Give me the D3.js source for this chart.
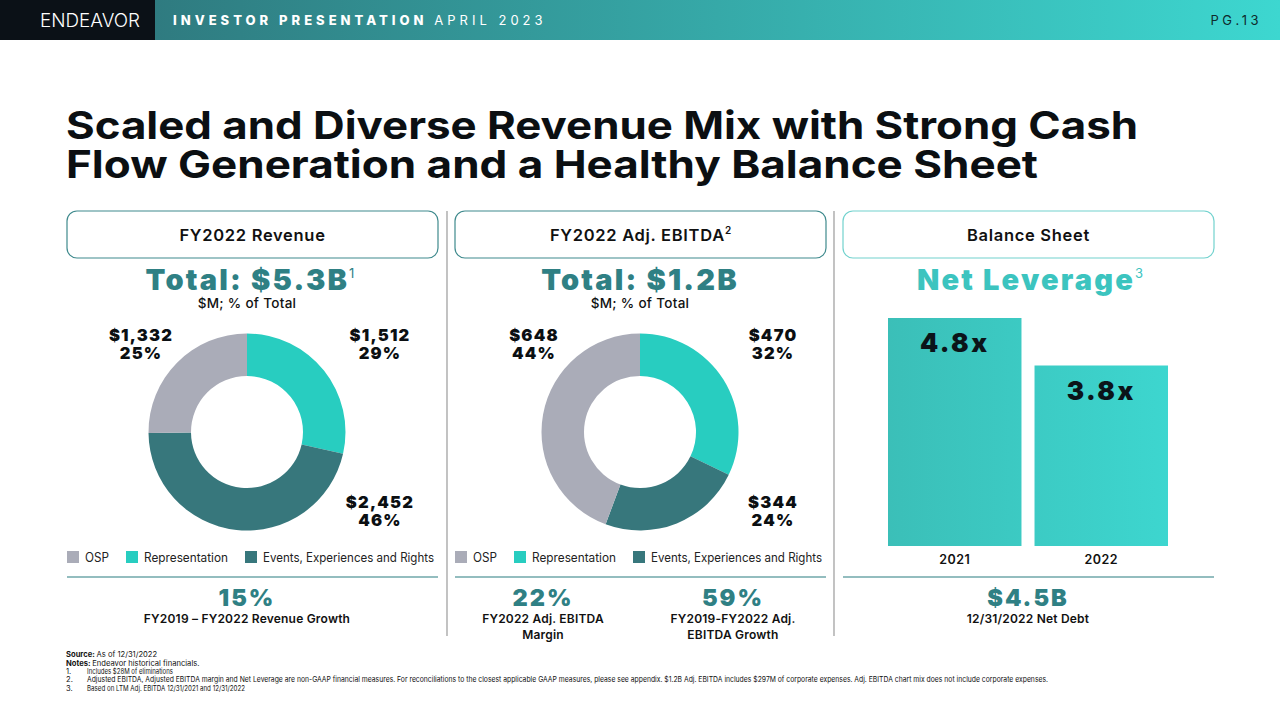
<!DOCTYPE html>
<html><head><meta charset="utf-8">
<script src="https://cdn.jsdelivr.net/npm/d3@7"></script>
<style>
html,body{margin:0;padding:0;background:#fff;}
svg{display:block;font-family:Inter, "DejaVu Sans", sans-serif;}
</style></head>
<body><svg id="c" width="1280" height="720"></svg>
<script>
// ---------- data ----------
const segments = ["Representation", "Events, Experiences and Rights", "OSP"];
const revenueValues = [1512, 2452, 1332];
const revenuePct = ["29%", "46%", "25%"];
const ebitdaValues = [470, 344, 648];
const ebitdaPct = ["32%", "24%", "44%"];
const legendOrder = ["OSP", "Representation", "Events, Experiences and Rights"];
const years = ["2021", "2022"];
const leverage = [4.8, 3.8];
const leverageLabels = ["4.8x", "3.8x"];
const titleLines = ["Scaled and Diverse Revenue Mix with Strong Cash", "Flow Generation and a Healthy Balance Sheet"];

const colors = {"OSP": "#aaacb8", "Representation": "#28cdc0", "Events, Experiences and Rights": "#37777c"};
// label corner for each segment (right/left, top/bottom)
const labelCorner = {"Representation": [1, -1], "Events, Experiences and Rights": [1, 1], "OSP": [-1, -1]};
const teal = "#2f8084";

const svg = d3.select("#c");
const defs = svg.append("defs");

// ---------- header ----------
const hg = defs.append("linearGradient").attr("id", "hdr").attr("x1", "0").attr("x2", "1");
hg.append("stop").attr("offset", "0").attr("stop-color", "#2f7b80");
hg.append("stop").attr("offset", "1").attr("stop-color", "#3dd7d0");
svg.append("rect").attr("x", 155).attr("y", 0).attr("width", 1125).attr("height", 40).attr("fill", "url(#hdr)");
svg.append("rect").attr("x", 0).attr("y", 0).attr("width", 155).attr("height", 40).attr("fill", "#0b1117");
svg.append("text").attr("x", 40).attr("y", 27).attr("fill", "#fff").attr("font-size", 18).attr("font-weight", 300)
  .attr("textLength", 100).attr("lengthAdjust", "spacingAndGlyphs").text("ENDEAVOR");
const ht = svg.append("text").attr("x", 173).attr("y", 25).attr("fill", "#fff").attr("font-size", 13).attr("letter-spacing", 4);
ht.append("tspan").attr("font-weight", 800).text("INVESTOR PRESENTATION ");
ht.append("tspan").attr("font-weight", 400).text("APRIL 2023");
svg.append("text").attr("x", 1262).attr("y", 25).attr("text-anchor", "end").attr("fill", "#0f2a2c")
  .attr("font-size", 13).attr("letter-spacing", 3.5).text("PG.13");

// ---------- title (one text, two lines) ----------
const title = svg.append("text").attr("x", 66).attr("y", 139).attr("font-size", 38).attr("font-weight", 700).attr("fill", "#0b0f12");
const titleLen = [1072, 972];
titleLines.forEach((l, i) => title.append("tspan").attr("x", 66).attr("y", 139 + i * 39)
  .attr("textLength", titleLen[i]).attr("lengthAdjust", "spacingAndGlyphs").text(l));

// ---------- panel boxes ----------
const panels = [
  {x: 67, title: "FY2022 Revenue", stroke: "#3f8a8d"},
  {x: 455, title: "FY2022 Adj. EBITDA", sup: "2", stroke: "#3f8a8d"},
  {x: 843, title: "Balance Sheet", stroke: "#72d2ce"}
];
panels.forEach(p => {
  svg.append("rect").attr("x", p.x).attr("y", 211).attr("width", 371).attr("height", 47).attr("rx", 10)
    .attr("fill", "#fff").attr("stroke", p.stroke).attr("stroke-width", 1.2);
  const t = svg.append("text").attr("x", p.x + 185.5).attr("y", 241).attr("text-anchor", "middle")
    .attr("font-size", 16.5).attr("font-weight", 600).attr("fill", "#111").attr("letter-spacing", 0.7).text(p.title);
  if (p.sup) t.append("tspan").attr("font-size", 10).attr("dy", -7).attr("letter-spacing", 0).text(p.sup);
});
[447, 834].forEach(x => svg.append("line").attr("x1", x).attr("x2", x).attr("y1", 211).attr("y2", 636)
  .attr("stroke", "#9a9a9a").attr("stroke-width", 1.2));

// ---------- totals ----------
function total(cx, txt, sup, color) {
  const t = svg.append("text").attr("x", cx).attr("y", 290).attr("text-anchor", "middle")
    .attr("font-size", 29).attr("font-weight", 900).attr("fill", color).attr("letter-spacing", 2.2).text(txt);
  t.append("tspan").attr("font-size", 13).attr("font-weight", 400).attr("letter-spacing", 0).attr("dy", -12).text(sup);
}
total(250, "Total: $5.3B", "1", teal);
svg.append("text").attr("x", 247).attr("y", 308).attr("text-anchor", "middle").attr("font-size", 13.5).attr("font-weight", 500).attr("letter-spacing", 0.3).attr("fill", "#111").text("$M; % of Total");
total(640, "Total: $1.2B", "", teal);
svg.append("text").attr("x", 640).attr("y", 308).attr("text-anchor", "middle").attr("font-size", 13.5).attr("font-weight", 500).attr("letter-spacing", 0.3).attr("fill", "#111").text("$M; % of Total");
total(1030, "Net Leverage", "3", "#3cc4bf");

// ---------- donuts ----------
function donut(cx, cy, values, pcts) {
  const data = segments.map((s, i) => ({name: s, value: values[i], pct: pcts[i]}));
  const pie = d3.pie().value(d => d.value).sort(null);
  const arc = d3.arc().innerRadius(56).outerRadius(98.5);
  const g = svg.append("g").attr("transform", `translate(${cx},${cy})`);
  const arcs = pie(data);
  g.selectAll("path").data(arcs).join("path").attr("d", arc).attr("fill", d => colors[d.data.name]);
  arcs.forEach(a => {
    const corner = labelCorner[a.data.name];
    const lx = corner[0] > 0 ? 133 : -106;
    const ly = corner[1] > 0 ? 76 : -91;
    [("$" + d3.format(",")(a.data.value)), a.data.pct].forEach((s, k) => {
      g.append("text").attr("x", lx).attr("y", ly + k * 17.5).attr("text-anchor", "middle")
        .attr("font-size", 16.5).attr("font-weight", 900).attr("fill", "#0b0f12").attr("letter-spacing", 1.2).text(s);
    });
  });
}
donut(247, 432, revenueValues, revenuePct);
donut(640, 432, ebitdaValues, ebitdaPct);

// ---------- legends ----------
const legendLen = [24, 84, 171];
function legend(x0, offs) {
  legendOrder.forEach((n, i) => {
    svg.append("rect").attr("x", x0 + offs[i]).attr("y", 551).attr("width", 12).attr("height", 12).attr("fill", colors[n]);
    svg.append("text").attr("x", x0 + offs[i] + 18).attr("y", 562).attr("font-size", 12.5).attr("fill", "#222")
      .attr("textLength", legendLen[i]).attr("lengthAdjust", "spacingAndGlyphs").text(n);
  });
}
legend(67, [0, 59, 178]);
legend(455, [0, 59, 178]);

// ---------- separators ----------
[67, 455, 843].forEach(x => svg.append("line").attr("x1", x).attr("x2", x + 371).attr("y1", 577).attr("y2", 577)
  .attr("stroke", "#6fa7aa").attr("stroke-width", 1.3));

// ---------- KPIs ----------
function kpi(cx, big, lines) {
  svg.append("text").attr("x", cx).attr("y", 606).attr("text-anchor", "middle").attr("font-size", 23.5)
    .attr("font-weight", 900).attr("fill", teal).attr("letter-spacing", 2).text(big);
  lines.forEach((l, i) => svg.append("text").attr("x", cx).attr("y", 623 + i * 16).attr("text-anchor", "middle")
    .attr("font-size", 12).attr("font-weight", 600).attr("fill", "#111").attr("letter-spacing", 0.2).text(l));
}
kpi(247, "15%", ["FY2019 \u2013 FY2022 Revenue Growth"]);
kpi(543, "22%", ["FY2022 Adj. EBITDA", "Margin"]);
kpi(733, "59%", ["FY2019-FY2022 Adj.", "EBITDA Growth"]);
kpi(1028, "$4.5B", ["12/31/2022 Net Debt"]);

// ---------- bar chart ----------
const bg = defs.append("linearGradient").attr("id", "bar").attr("gradientUnits", "userSpaceOnUse")
  .attr("x1", 888).attr("x2", 1168).attr("y1", 0).attr("y2", 0);
bg.append("stop").attr("offset", "0").attr("stop-color", "#3bbfb8");
bg.append("stop").attr("offset", "1").attr("stop-color", "#3dd6cf");
const xb = d3.scaleBand().domain(years).range([888, 1168]).paddingInner(0.089).paddingOuter(0);
const yb = d3.scaleLinear().domain([0, 4.8]).range([546, 318]);
svg.selectAll("rect.bar").data(leverage).join("rect").attr("class", "bar")
  .attr("x", (d, i) => xb(years[i])).attr("width", xb.bandwidth())
  .attr("y", d => yb(d)).attr("height", d => yb(0) - yb(d)).attr("fill", "url(#bar)");
svg.selectAll("text.bl").data(leverage).join("text").attr("class", "bl")
  .attr("x", (d, i) => xb(years[i]) + xb.bandwidth() / 2).attr("y", d => yb(d) + 34)
  .attr("text-anchor", "middle").attr("font-size", 26).attr("font-weight", 900).attr("fill", "#0b1419")
  .attr("letter-spacing", 2.5).text((d, i) => leverageLabels[i]);
svg.selectAll("text.yr").data(years).join("text").attr("class", "yr")
  .attr("x", d => xb(d) + xb.bandwidth() / 2).attr("y", 564).attr("text-anchor", "middle")
  .attr("font-size", 12.5).attr("font-weight", 600).attr("fill", "#111").attr("letter-spacing", 0.5).text(d => d);

// ---------- footnotes ----------
const fn = svg.append("g").attr("font-size", 7.6).attr("fill", "#111");
let t = fn.append("text").attr("x", 66).attr("y", 657);
t.append("tspan").attr("font-weight", 700).text("Source: ");
t.append("tspan").text("As of 12/31/2022");
t = fn.append("text").attr("x", 66).attr("y", 665.5);
t.append("tspan").attr("font-weight", 700).text("Notes: ");
t.append("tspan").text("Endeavor historical financials.");
const notes = [
  "Includes $28M of eliminations",
  "Adjusted EBITDA, Adjusted EBITDA margin and Net Leverage are non-GAAP financial measures. For reconciliations to the closest applicable GAAP measures, please see appendix. $1.2B Adj. EBITDA includes $297M of corporate expenses. Adj. EBITDA chart mix does not include corporate expenses.",
  "Based on LTM Adj. EBITDA 12/31/2021 and 12/31/2022"
];
const nlen = [86, 961, 158];
notes.forEach((n, i) => {
  fn.append("text").attr("x", 66).attr("y", 674 + i * 8.3).text((i + 1) + ".");
  fn.append("text").attr("x", 87).attr("y", 674 + i * 8.3).attr("textLength", nlen[i]).attr("lengthAdjust", "spacingAndGlyphs").text(n);
});
</script></body></html>
